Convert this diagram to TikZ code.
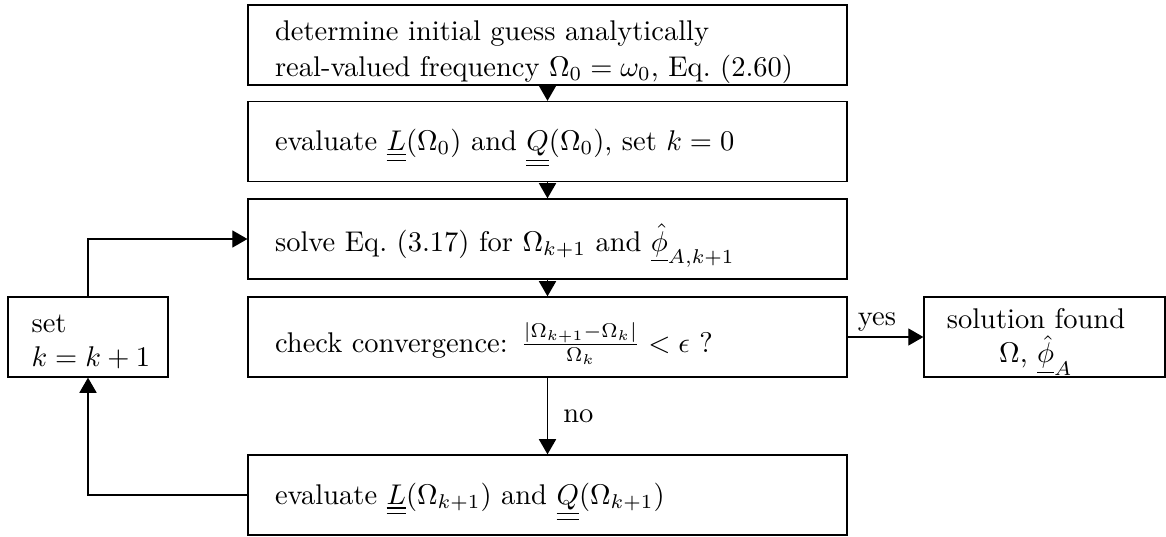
\documentclass[tikz,border=0pt]{standalone}
\usetikzlibrary{arrows.meta}
\begin{document}
\begin{tikzpicture}[x=0.351pt,y=-0.351pt,
  mainbox/.style={draw, line width=0.45pt, rectangle, minimum width=210.2pt, minimum height=28.1pt, inner sep=0pt},
  sidebox/.style={draw, line width=0.45pt, rectangle, minimum height=28.1pt, inner sep=0pt},
  maintext/.style={anchor=west, inner sep=0pt, align=left, xshift=9.5pt, yshift=-2.4pt},
  arr/.style={line width=0.45pt, -{Triangle[length=5.3pt,width=6pt]}}]
\useasboundingbox (0,0) rectangle (1166,536);
% boxes
\node[mainbox] (b1) at (547.5,45) {};
\node[mainbox] (b2) at (547.5,141.5) {};
\node[mainbox] (b3) at (547.5,239) {};
\node[mainbox] (b4) at (547.5,337) {};
\node[mainbox] (b5) at (547.5,495) {};
\node[sidebox, minimum width=56.2pt] (set) at (88,337) {};
\node[sidebox, minimum width=84.6pt] (sol) at (1044.5,337) {};
% texts
\node[maintext] (t1) at (b1.west) {determine initial guess analytically\\[0.6pt] real-valued frequency $\Omega_0=\omega_0$, Eq.~(2.60)};
\node[maintext] (t2) at (b2.west) {evaluate $\underline{\underline{L}}(\Omega_0)$ and $\underline{\underline{Q}}(\Omega_0)$, set $k=0$};
\node[maintext] (t3) at (b3.west) {solve Eq.~(3.17) for $\Omega_{k+1}$ and $\underline{\hat{\phi}}_{A,k+1}$};
\node[maintext] (t4) at (b4.west) {check convergence: $\frac{|\Omega_{k+1}-\Omega_k|}{\Omega_k}<\epsilon$ ?};
\node[maintext] (t5) at (b5.west) {evaluate $\underline{\underline{L}}(\Omega_{k+1})$ and $\underline{\underline{Q}}(\Omega_{k+1})$};
\node[inner sep=0pt, align=left, xshift=1pt, yshift=-1.6pt] (tset) at (set.center) {set\\ $k=k+1$};
\node[inner sep=0pt, align=center, xshift=-3pt, yshift=-1.8pt] (tsol) at (sol.center) {solution found\\ $\Omega$, $\underline{\hat{\phi}}_A$};
% connectors
\draw[arr] (b1) -- (b2);
\draw[arr] (b2) -- (b3);
\draw[arr] (b3) -- (b4);
\draw[arr] (b4) -- node[right, xshift=2pt] {no} (b5);
\draw[arr] (b4) -- node[above, inner sep=1.8pt, xshift=-3pt] {yes} (sol);
\draw[arr] (b5.west) -| (set.south);
\draw[arr] (set.north) |- (b3.west);
\end{tikzpicture}
\end{document}
